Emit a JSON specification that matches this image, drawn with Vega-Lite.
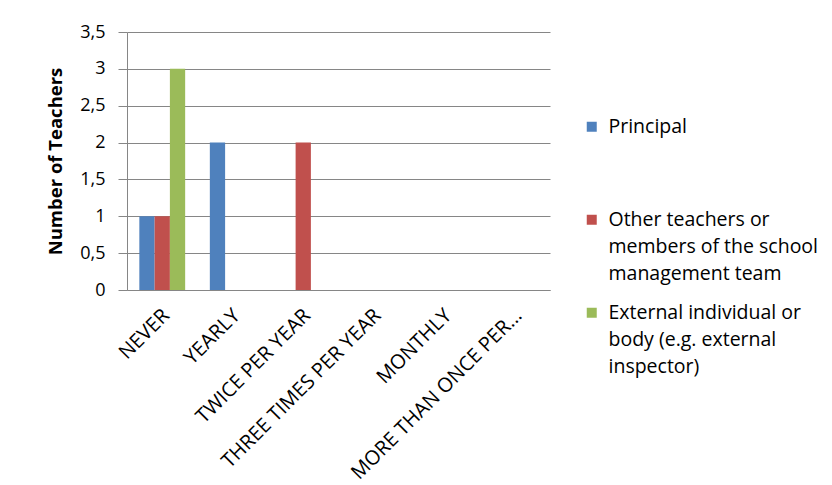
{
  "$schema": "https://vega.github.io/schema/vega-lite/v6.json",
  "width": 423,
  "height": 258,
  "autosize": "none",
  "padding": {"left": 127, "top": 32, "right": 282, "bottom": 195},
  "background": "white",
  "data": {
    "values": [
      {"freq": "NEVER", "who": "Principal", "n": 1},
      {"freq": "NEVER", "who": "Other teachers or members of the school management team", "n": 1},
      {"freq": "NEVER", "who": "External individual or body (e.g. external inspector)", "n": 3},
      {"freq": "YEARLY", "who": "Principal", "n": 2},
      {"freq": "YEARLY", "who": "Other teachers or members of the school management team", "n": 0},
      {"freq": "YEARLY", "who": "External individual or body (e.g. external inspector)", "n": 0},
      {"freq": "TWICE PER YEAR", "who": "Principal", "n": 0},
      {"freq": "TWICE PER YEAR", "who": "Other teachers or members of the school management team", "n": 2},
      {"freq": "TWICE PER YEAR", "who": "External individual or body (e.g. external inspector)", "n": 0},
      {"freq": "THREE TIMES PER YEAR", "who": "Principal", "n": 0},
      {"freq": "THREE TIMES PER YEAR", "who": "Other teachers or members of the school management team", "n": 0},
      {"freq": "THREE TIMES PER YEAR", "who": "External individual or body (e.g. external inspector)", "n": 0},
      {"freq": "MONTHLY", "who": "Principal", "n": 0},
      {"freq": "MONTHLY", "who": "Other teachers or members of the school management team", "n": 0},
      {"freq": "MONTHLY", "who": "External individual or body (e.g. external inspector)", "n": 0},
      {"freq": "MORE THAN ONCE PER...", "who": "Principal", "n": 0},
      {"freq": "MORE THAN ONCE PER...", "who": "Other teachers or members of the school management team", "n": 0},
      {"freq": "MORE THAN ONCE PER...", "who": "External individual or body (e.g. external inspector)", "n": 0}
    ]
  },
  "mark": {"type": "bar"},
  "encoding": {
    "x": {
      "field": "freq",
      "type": "nominal",
      "sort": null,
      "scale": {"paddingInner": 0.35, "paddingOuter": 0.175},
      "axis": {
        "title": null,
        "labelAngle": -45,
        "labelAlign": "right",
        "labelBaseline": "top",
        "labelFont": "Open Sans",
        "labelFontSize": 20,
        "labelColor": "#000000",
        "labelPadding": 15,
        "labelLimit": 400,
        "ticks": false,
        "domainColor": "#868686",
        "labelOffset": -3
      }
    },
    "xOffset": {
      "field": "who",
      "type": "nominal",
      "sort": null
    },
    "y": {
      "field": "n",
      "type": "quantitative",
      "scale": {"domain": [0, 3.5]},
      "axis": {
        "title": "Number of Teachers",
        "titleFont": "Open Sans",
        "titleFontSize": 18.5,
        "titleFontWeight": "bold",
        "titleColor": "#000000",
        "titlePadding": 14,
        "values": [0, 0.5, 1, 1.5, 2, 2.5, 3, 3.5],
        "format": "~g",
        "labelExpr": "replace(datum.label, '.', ',')",
        "labelFont": "Open Sans",
        "labelFontSize": 18,
        "labelColor": "#000000",
        "labelPadding": 13,
        "tickSize": 9,
        "tickColor": "#868686",
        "gridColor": "#868686",
        "domainColor": "#868686"
      }
    },
    "color": {
      "field": "who",
      "type": "nominal",
      "sort": null,
      "scale": {"range": ["#4F81BD", "#C0504D", "#9BBB59"]},
      "legend": {
        "title": null,
        "orient": "none",
        "legendX": 455,
        "legendY": 85,
        "symbolType": "square",
        "symbolSize": 100,
        "symbolStrokeWidth": 0,
        "labelFont": "Open Sans",
        "labelFontSize": 19.5,
        "labelColor": "#000000",
        "labelLimit": 400,
        "labelBaseline": "middle",
        "labelOffset": 7,
        "gridAlign": "all",
        "rowPadding": 18,
        "labelExpr": "datum.label == 'Principal' ? ['Principal'] : (indexof(datum.label, 'Other') == 0 ? ['Other teachers or', 'members of the school', 'management team'] : ['External individual or', 'body (e.g. external', 'inspector)'])",
        "encode": {"labels": {"update": {"lineHeight": {"value": 27}}}}
      }
    }
  },
  "config": {
    "view": {"stroke": null},
    "axis": {"gridWidth": 1, "domainWidth": 1}
  }
}
